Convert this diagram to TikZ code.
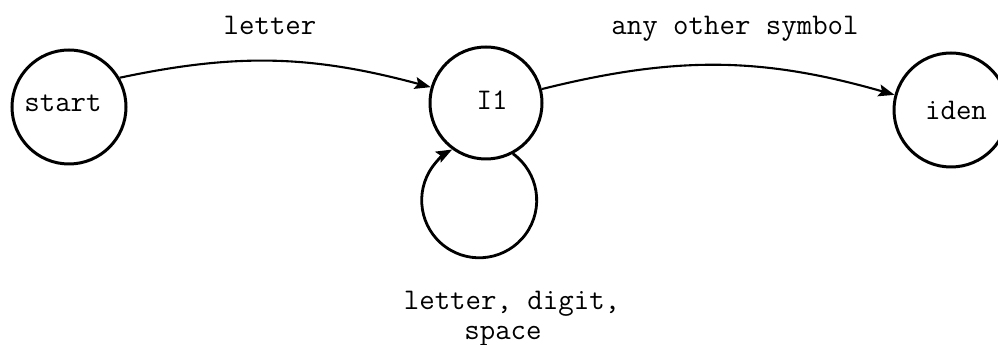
\documentclass[tikz,border=0pt]{standalone}
\usetikzlibrary{arrows.meta}
\begin{document}
\begin{tikzpicture}[x=1pt,y=1pt,
  state/.style={circle, draw, line width=3pt, inner sep=0pt},
  edge/.style={line width=2.1pt, -{Stealth[length=16pt,width=12pt,inset=3pt]}},
  lbl/.style={font=\ttfamily\fontsize{30}{34}\selectfont, anchor=base, inner sep=0pt}]
\useasboundingbox (0,0) rectangle (998,345);
% states
\node[state, minimum size=114pt] (start) at (69,238) {};
\node[state, minimum size=112pt] (I1) at (486,242) {};
\node[state, minimum size=114pt] (iden) at (951,235) {};
% state texts
\node[lbl] (tstart) at (63,233) {start};
\node[lbl] (tI1) at (492,235) {I1};
\node[lbl] (tiden) at (956,225) {iden};
% edge labels
\node[lbl] (lletter) at (270,310) {letter};
\node[lbl] (lany) at (735,310) {any other symbol};
\node[lbl] (lloop1) at (512,35) {letter, digit,};
\node[lbl] (lloop2) at (503,5) {space};
% connectors
\draw[edge] (start.30) to[out=12,in=165] (I1.164);
\draw[edge] (I1.14) to[out=14,in=164] (iden.165);
\draw[edge, line width=2.8pt] (I1.-62) arc[start angle=54, end angle=-242, radius=57.5];
\end{tikzpicture}
\end{document}
